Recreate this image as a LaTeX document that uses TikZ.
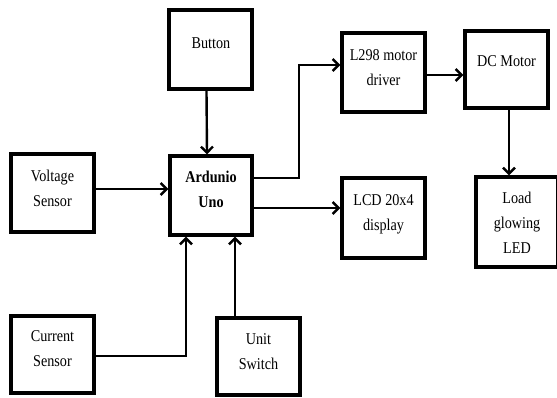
\documentclass[tikz,border=0pt]{standalone}
\usepackage{fontspec}
\setmainfont{Liberation Serif}[FakeStretch=0.86]
\usetikzlibrary{arrows.meta}
\tikzset{
  blk/.style={draw=black, line width=3.4pt, fill=white, inner sep=0pt},
  lbl/.style={inner sep=0pt, align=center, anchor=north, font=\fontsize{16.5}{25}\selectfont},
  arr/.style={draw=black, line width=2.4pt, -{Straight Barb[length=6pt,width=12pt,line width=2.4pt]}},
}
\begin{document}
\begin{tikzpicture}[x=1pt,y=-1pt]
\useasboundingbox (0,0) rectangle (557,397);
% boxes
\node[blk, minimum width=83pt, minimum height=79pt] (button) at (210.5,49.5) {};
\node[blk, minimum width=82pt, minimum height=79pt] (ard) at (211,195.5) {};
\node[blk, minimum width=83pt, minimum height=78pt] (volt) at (52.5,193) {};
\node[blk, minimum width=83pt, minimum height=77pt] (cur) at (52.5,354.5) {};
\node[blk, minimum width=83pt, minimum height=77pt] (unit) at (258.5,356.5) {};
\node[blk, minimum width=83pt, minimum height=79pt] (l298) at (383.5,72.5) {};
\node[blk, minimum width=83pt, minimum height=77pt] (dc) at (506.5,69.5) {};
\node[blk, minimum width=83pt, minimum height=80pt] (lcd) at (383.5,218) {};
\node[blk, minimum width=82pt, minimum height=90pt] (load) at (517,222) {};
% texts
\node[lbl] (tbutton) at (211,37.3) {Button};
\node[lbl, font=\fontsize{16.5}{25}\selectfont\bfseries] (tard) at (211,170.7) {Ardunio\\Uno};
\node[lbl] (tvolt) at (52.5,170) {Voltage\\Sensor};
\node[lbl] (tcur) at (52.5,330.7) {Current\\Sensor};
\node[lbl] (tunit) at (258.5,333) {Unit\\Switch};
\node[lbl] (tl298) at (383.5,49) {L298 motor\\driver};
\node[lbl] (tdc) at (506.5,55.7) {DC Motor};
\node[lbl] (tlcd) at (383.5,194) {LCD 20x4\\display};
\node[lbl] (tload) at (517,192.3) {Load\\glowing\\LED};
% connectors
\draw[arr] ([xshift=-4pt]button.south) -- ([xshift=-4pt]ard.north);
\draw[arr] ([yshift=4pt]volt.east) -- ([yshift=4pt]volt.east -| ard.west);
\draw[arr] ([yshift=-1.5pt]cur.east) -| ([xshift=-25pt]ard.south);
\draw[arr] ([xshift=24pt]ard.south |- unit.north) -- ([xshift=24pt]ard.south);
\draw[arr] ([yshift=17.5pt]ard.east) -- ++(45,0) |- ([yshift=7.5pt]l298.west);
\draw[arr] ([yshift=-12.5pt]ard.east) -- ([yshift=-12.5pt]ard.east -| lcd.west);
\draw[arr] ([yshift=-2.5pt]l298.east) -- ([yshift=-2.5pt]l298.east -| dc.west);
\draw[arr] ([xshift=2.5pt]dc.south) -- ([xshift=2.5pt]dc.south |- load.north);
\end{tikzpicture}
\end{document}
